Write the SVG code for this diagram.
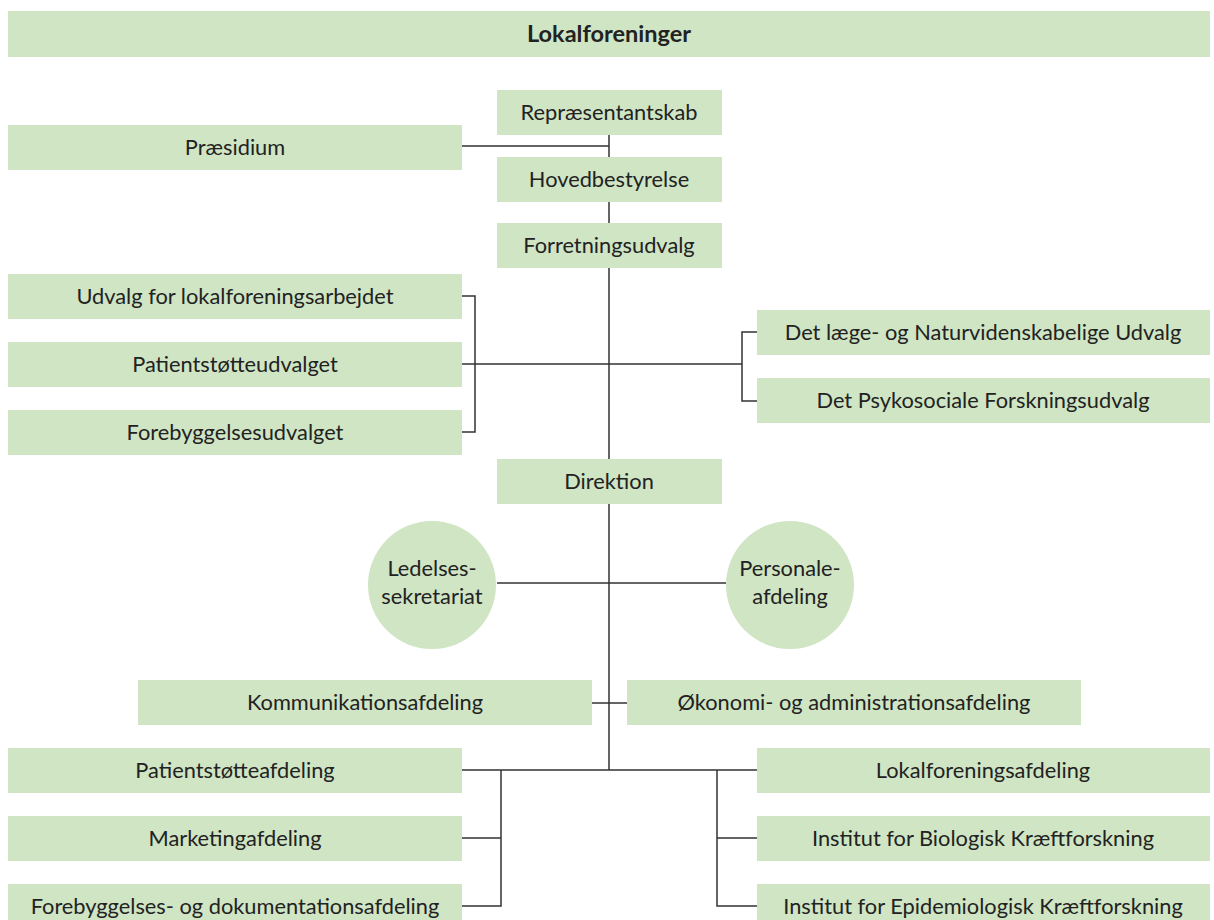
<svg xmlns="http://www.w3.org/2000/svg" width="1214" height="920" viewBox="0 0 1214 920">
<style>
.b{fill:#cfe5c4}
.t{font-family:Lato,"Open Sans","Liberation Sans",sans-serif;font-size:21.8px;fill:#222;text-anchor:middle}
.bold{font-weight:bold;font-size:23.5px}
.c{stroke:#333;stroke-width:1.5;fill:none}
</style>
<rect width="1214" height="920" fill="#fff"/>
<g id="connectors">
<path class="c" d="M609 135V157M462 146H609M609 202V223M609 268V459"/>
<path class="c" d="M462 296H475V432H462M462 364H742M757 332H742V401H757"/>
<path class="c" d="M609 504V770M497 583H726M592 703H627"/>
<path class="c" d="M462 770H757M501 770V906H462M501 838H462M717 770V906H757M717 838H757"/>
</g>
<g id="lokalforeninger"><rect class="b" x="8" y="11" width="1202" height="46"/><text class="t bold" x="609" y="42">Lokalforeninger</text></g>
<g id="repraesentantskab"><rect class="b" x="497" y="90" width="225" height="45"/><text class="t" x="609" y="120">Repræsentantskab</text></g>
<g id="praesidium"><rect class="b" x="8" y="125" width="454" height="45"/><text class="t" x="235" y="155">Præsidium</text></g>
<g id="hovedbestyrelse"><rect class="b" x="497" y="157" width="225" height="45"/><text class="t" x="609" y="187">Hovedbestyrelse</text></g>
<g id="forretningsudvalg"><rect class="b" x="497" y="223" width="225" height="45"/><text class="t" x="609" y="253">Forretningsudvalg</text></g>
<g id="udvalg-lokal"><rect class="b" x="8" y="274" width="454" height="45"/><text class="t" x="235" y="304">Udvalg for lokalforeningsarbejdet</text></g>
<g id="patientstoetteudvalget"><rect class="b" x="8" y="342" width="454" height="45"/><text class="t" x="235" y="372">Patientstøtteudvalget</text></g>
<g id="forebyggelsesudvalget"><rect class="b" x="8" y="410" width="454" height="45"/><text class="t" x="235" y="440">Forebyggelsesudvalget</text></g>
<g id="laege-udvalg"><rect class="b" x="757" y="310" width="453" height="45"/><text class="t" x="983" y="340">Det læge- og Naturvidenskabelige Udvalg</text></g>
<g id="psykosociale"><rect class="b" x="757" y="378" width="453" height="45"/><text class="t" x="983" y="408">Det Psykosociale Forskningsudvalg</text></g>
<g id="direktion"><rect class="b" x="497" y="459" width="225" height="45"/><text class="t" x="609" y="489">Direktion</text></g>
<g id="ledelsessekretariat"><circle class="b" cx="432" cy="585" r="64"/><text class="t" x="432" y="576">Ledelses-</text><text class="t" x="432" y="604">sekretariat</text></g>
<g id="personaleafdeling"><circle class="b" cx="790" cy="585" r="64"/><text class="t" x="790" y="576">Personale-</text><text class="t" x="790" y="604">afdeling</text></g>
<g id="kommunikation"><rect class="b" x="138" y="680" width="454" height="45"/><text class="t" x="365" y="710">Kommunikationsafdeling</text></g>
<g id="oekonomi"><rect class="b" x="627" y="680" width="454" height="45"/><text class="t" x="854" y="710">Økonomi- og administrationsafdeling</text></g>
<g id="patientstoetteafdeling"><rect class="b" x="8" y="748" width="454" height="45"/><text class="t" x="235" y="778">Patientstøtteafdeling</text></g>
<g id="marketing"><rect class="b" x="8" y="816" width="454" height="45"/><text class="t" x="235" y="846">Marketingafdeling</text></g>
<g id="forebyggelses-dok"><rect class="b" x="8" y="884" width="454" height="45"/><text class="t" x="235" y="914">Forebyggelses- og dokumentationsafdeling</text></g>
<g id="lokalforeningsafdeling"><rect class="b" x="757" y="748" width="453" height="45"/><text class="t" x="983" y="778">Lokalforeningsafdeling</text></g>
<g id="biologisk"><rect class="b" x="757" y="816" width="453" height="45"/><text class="t" x="983" y="846">Institut for Biologisk Kræftforskning</text></g>
<g id="epidemiologisk"><rect class="b" x="757" y="884" width="453" height="45"/><text class="t" x="983" y="914">Institut for Epidemiologisk Kræftforskning</text></g>
</svg>
